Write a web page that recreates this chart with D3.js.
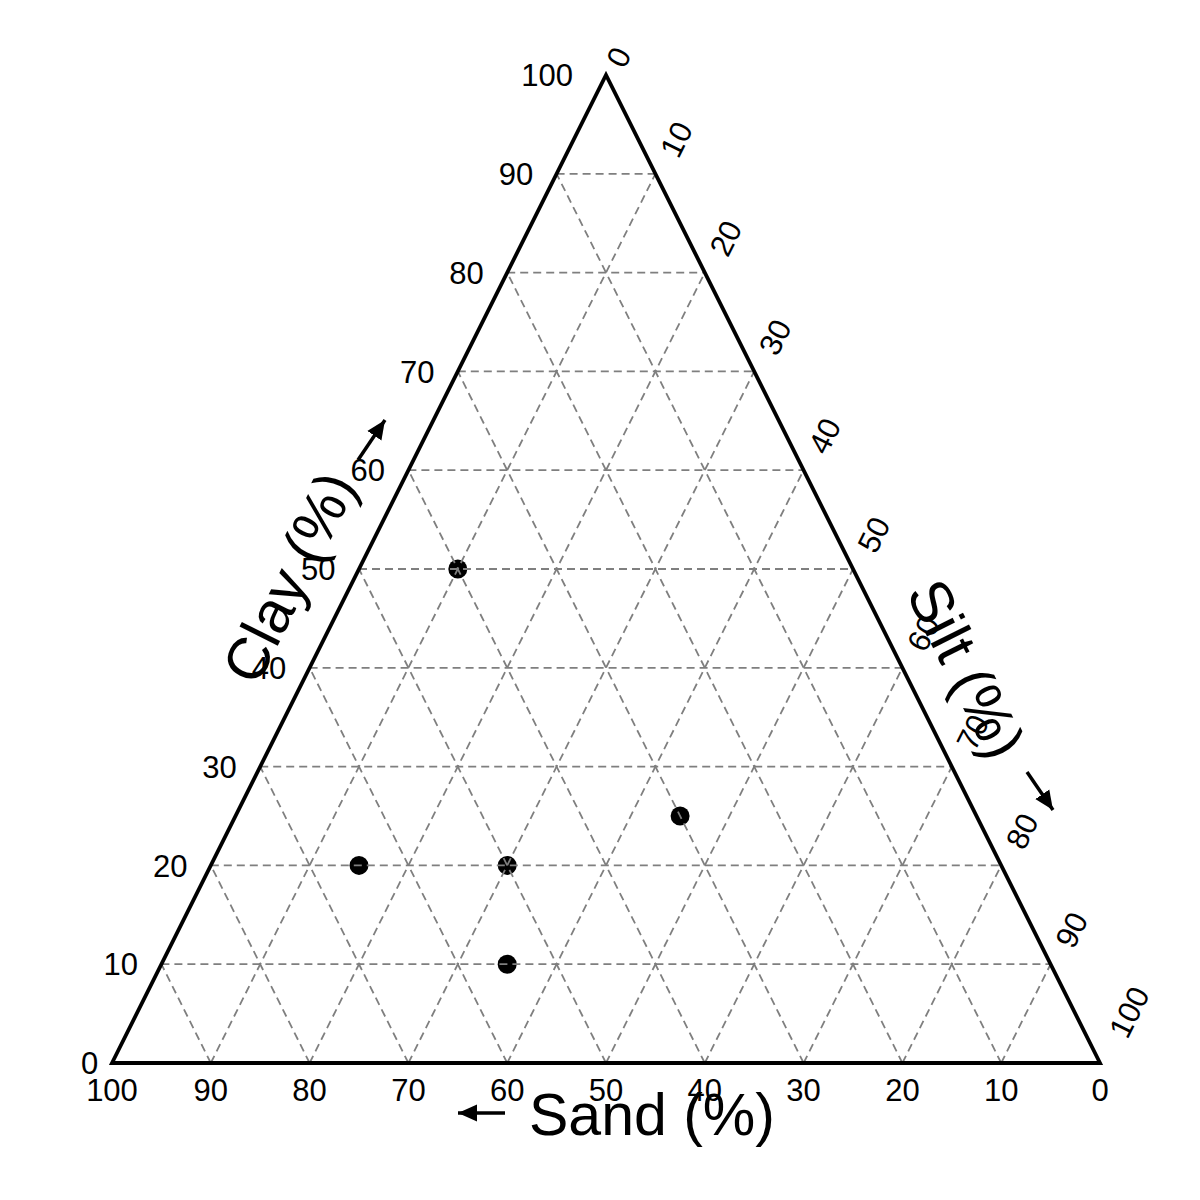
<!DOCTYPE html>
<html><head><meta charset="utf-8">
<script src="https://cdn.jsdelivr.net/npm/d3@7"></script>
<style>
body{margin:0;background:#fff}
text{font-family:"Liberation Sans",Arial,Helvetica,sans-serif;fill:#000}
</style>
</head><body>
<svg id="chart" width="1200" height="1200"></svg>
<script>
// ---- data ----
const sand = [40, 65, 50, 55, 30];
const silt = [10, 15, 30, 35, 45];
const clay = [50, 20, 20, 10, 25];
const tickValues = [0, 10, 20, 30, 40, 50, 60, 70, 80, 90, 100];
const gridLevels = [10, 20, 30, 40, 50, 60, 70, 80, 90];
const clayTitle = "Clay (%)";
const siltTitle = "Silt (%)";
const sandTitle = "Sand (%)";

// ---- scales ----
const x = d3.scaleLinear().domain([0, 100]).range([112, 1100]); // silt + clay/2
const y = d3.scaleLinear().domain([0, 100]).range([1063, 75]);  // clay
const P = (sa, si, cl) => [x(si + cl / 2), y(cl)];

const svg = d3.select("#chart");
svg.append("rect").attr("width", 1200).attr("height", 1200).attr("fill", "#fff");

const defs = svg.append("defs");
defs.append("marker").attr("id", "ah").attr("markerUnits", "userSpaceOnUse")
  .attr("markerWidth", 24).attr("markerHeight", 24).attr("viewBox", "0 -12 24 24")
  .attr("refX", 19).attr("refY", 0).attr("orient", "auto")
  .append("path").attr("d", "M0,-8.5L19,0L0,8.5Z").attr("fill", "#000");

// ---- points (drawn under the grid) ----
svg.append("g").selectAll("circle").data(d3.range(sand.length)).join("circle")
  .attr("cx", i => P(sand[i], silt[i], clay[i])[0])
  .attr("cy", i => P(sand[i], silt[i], clay[i])[1])
  .attr("r", 9.5).attr("fill", "#000");

// ---- grid ----
const grid = svg.append("g").attr("stroke", "#7f7f7f").attr("stroke-width", 1.8)
  .attr("stroke-dasharray", "8,5").attr("fill", "none");
const line = d3.line();
gridLevels.forEach(v => {
  grid.append("path").attr("d", line([P(100 - v, 0, v), P(0, 100 - v, v)]));   // clay const
  grid.append("path").attr("d", line([P(100 - v, v, 0), P(0, v, 100 - v)]));   // silt const
  grid.append("path").attr("d", line([P(v, 100 - v, 0), P(v, 0, 100 - v)]));   // sand const
});

// ---- triangle ----
svg.append("path")
  .attr("d", line([P(100, 0, 0), P(0, 100, 0), P(0, 0, 100)]) + "Z")
  .attr("fill", "none").attr("stroke", "#000").attr("stroke-width", 3.8)
  .attr("stroke-linejoin", "miter");

// ---- tick labels ----
const fs = 31;
const ang = Math.atan2(y(0) - y(100), x(50) - x(0)) * 180 / Math.PI; // ~63.4
const lab = svg.append("g").attr("font-size", fs);

tickValues.forEach(v => {   // clay (left)
  const [ex, ey] = P(100 - v, 0, v);
  const n = String(v).length;
  lab.append("text").attr("x", ex - 4 - 9.7 * n).attr("y", ey + 0.36 * fs)
    .attr("text-anchor", "end").text(v);
});
tickValues.forEach(v => {   // sand (bottom)
  const [ex, ey] = P(v, 100 - v, 0);
  lab.append("text").attr("x", ex).attr("y", ey + 38)
    .attr("text-anchor", "middle").text(v);
});
const ur = -ang * Math.PI / 180;
const ux = Math.cos(ur), uy = Math.sin(ur);
tickValues.forEach(v => {   // silt (right), rotated
  const [ex, ey] = P(0, v, 100 - v);
  const n = String(v).length;
  const d = 3 + 18.5 * n;
  const cx = ex + ux * d + (-uy) * 3, cy = ey + uy * d + ux * 3;
  lab.append("text").attr("transform", `translate(${cx},${cy}) rotate(${-ang})`)
    .attr("y", 0.36 * fs).attr("text-anchor", "middle").text(v);
});

// ---- axis titles ----
const tfs = 59;
const tg = svg.append("g").attr("font-size", tfs);
const [c50x, c50y] = P(50, 0, 50);
tg.append("text").attr("transform", `translate(${c50x - 70},${c50y + 8}) rotate(${-ang})`)
  .attr("y", 0.35 * tfs).attr("text-anchor", "middle").text(clayTitle);
const [s60x, s60y] = P(0, 60, 40);
tg.append("text").attr("transform", `translate(${s60x + 64},${s60y + 1}) rotate(${ang})`)
  .attr("y", 0.35 * tfs).attr("text-anchor", "middle").text(siltTitle);
const [sa50x, sa50y] = P(50, 50, 0);
tg.append("text").attr("x", sa50x + 46).attr("y", sa50y + 72)
  .attr("text-anchor", "middle").text(sandTitle);

// ---- arrows ----
const arr = svg.append("g").attr("stroke", "#000").attr("stroke-width", 3.5).attr("fill", "none");
arr.append("path").attr("d", line([[358, 460], [385, 420]])).attr("marker-end", "url(#ah)");
arr.append("path").attr("d", line([[1027, 772], [1053, 810]])).attr("marker-end", "url(#ah)");
arr.append("path").attr("d", line([[505, 1113], [458, 1113]])).attr("marker-end", "url(#ah)");
</script>
</body></html>
